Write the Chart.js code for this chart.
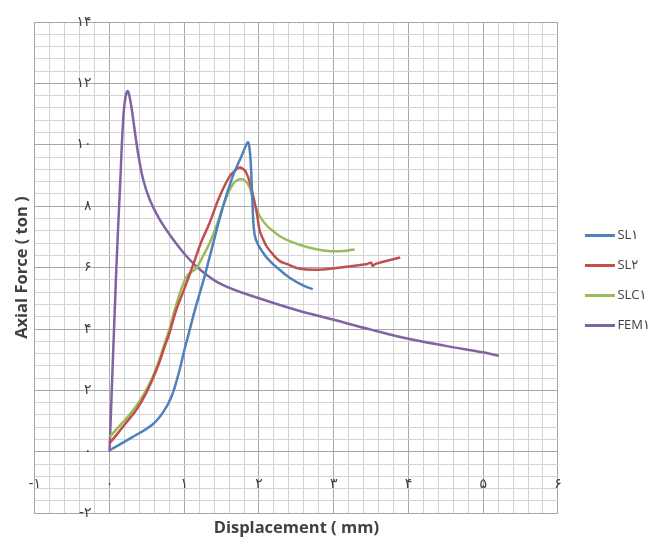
<!DOCTYPE html>
<html>
<head>
<meta charset="utf-8">
<script src="https://cdn.jsdelivr.net/npm/chart.js@4.4.0/dist/chart.umd.min.js"></script>
<style>
  html, body { margin: 0; padding: 0; background: #fff; }
  #wrap { width: 670px; height: 539px; }
</style>
</head>
<body>
<div id="wrap"><canvas id="LineChart"></canvas></div>
<script>
// series names and colours
const seriesNames = ['SL۱', 'SL۲', 'SLC۱', 'FEM۱'];
const seriesColors = ['#4f81bd', '#c0504d', '#9bbb59', '#8064a2'];

// SL1
const sl1X = [0, 0.3, 0.58, 0.72, 0.83, 0.93, 1.0, 1.06, 1.14, 1.27, 1.34, 1.52, 1.65, 1.77, 1.83, 1.855, 1.875, 1.89, 1.91, 1.93, 1.96, 2.05, 2.15, 2.28, 2.41, 2.59, 2.72];
const sl1Y = [0.05, 0.47, 0.9, 1.3, 1.8, 2.6, 3.3, 3.85, 4.6, 5.7, 6.35, 8.0, 8.98, 9.65, 10.0, 10.08, 9.85, 9.4, 8.3, 7.3, 6.9, 6.5, 6.2, 5.92, 5.67, 5.42, 5.3];

// SL2
const sl2X = [0, 0.11, 0.22, 0.36, 0.49, 0.63, 0.74, 0.8, 0.89, 1.0, 1.12, 1.23, 1.34, 1.47, 1.61, 1.7, 1.75, 1.83, 1.9, 1.97, 2.01, 2.06, 2.1, 2.19, 2.28, 2.37, 2.55, 2.86, 3.17, 3.45, 3.5, 3.52, 3.56, 3.89];
const sl2Y = [0.28, 0.6, 0.94, 1.37, 1.91, 2.68, 3.44, 3.85, 4.6, 5.3, 6.1, 6.85, 7.46, 8.3, 8.98, 9.2, 9.26, 9.09, 8.55, 7.79, 7.2, 6.9, 6.7, 6.42, 6.21, 6.12, 5.96, 5.94, 6.03, 6.12, 6.16, 6.06, 6.12, 6.33];

// SLC1
const slc1X = [0, 0.13, 0.27, 0.4, 0.54, 0.65, 0.74, 0.8, 0.87, 0.96, 1.03, 1.09, 1.16, 1.25, 1.34, 1.43, 1.52, 1.65, 1.76, 1.855, 1.92, 2.01, 2.1, 2.19, 2.28, 2.41, 2.64, 2.86, 3.08, 3.28];
const slc1Y = [0.48, 0.83, 1.21, 1.64, 2.24, 2.89, 3.55, 3.98, 4.6, 5.3, 5.7, 5.85, 5.98, 6.37, 6.8, 7.35, 8.0, 8.71, 8.88, 8.71, 8.22, 7.68, 7.38, 7.19, 7.02, 6.86, 6.67, 6.56, 6.53, 6.59];

// FEM1
const fem1X = [0, 0.09, 0.14, 0.18, 0.21, 0.245, 0.29, 0.335, 0.38, 0.45, 0.54, 0.67, 0.85, 1.03, 1.21, 1.5, 2.0, 2.5, 3.0, 3.5, 4.0, 4.5, 5.0, 5.21];
const fem1Y = [0, 5.9, 8.6, 10.7, 11.5, 11.75, 11.27, 10.5, 9.75, 8.87, 8.2, 7.57, 6.92, 6.37, 5.94, 5.45, 5.0, 4.62, 4.3, 3.98, 3.68, 3.45, 3.24, 3.13];

// tick labels
const xTicks = [-1, 0, 1, 2, 3, 4, 5, 6];
const xTickLabels = ['-۱', '۰', '۱', '۲', '۳', '۴', '۵', '۶'];
const yTicks = [-2, 0, 2, 4, 6, 8, 10, 12, 14];
const yTickLabels = ['-۲', '۰', '۲', '۴', '۶', '۸', '۱۰', '۱۲', '۱۴'];

const allX = [sl1X, sl2X, slc1X, fem1X];
const allY = [sl1Y, sl2Y, slc1Y, fem1Y];

function toPoints(xs, ys) {
  return xs.map((x, i) => ({ x: x, y: ys[i] }));
}

// legend sample: short line with a little space in front of it
function legendLine(color) {
  const c = document.createElement('canvas');
  c.width = 60;
  c.height = 3;
  const g = c.getContext('2d');
  g.fillStyle = color;
  g.fillRect(22, 0, 30, 3);
  return c;
}

const majorGrid = '#a6a6a6';
const minorGrid = '#d4d4d4';
const textColor = '#404040';

Chart.defaults.font.family = "'Open Sans', 'DejaVu Sans', sans-serif";
Chart.defaults.color = textColor;

const datasets = seriesNames.map((name, i) => ({
  label: name,
  data: toPoints(allX[i], allY[i]),
  borderColor: seriesColors[i],
  backgroundColor: seriesColors[i],
  borderWidth: 2.5,
  pointRadius: 0,
  fill: false,
  tension: 0.4
}));

const config = {
  type: 'line',
  data: { datasets: datasets },
  options: {
    responsive: true,
    maintainAspectRatio: false,
    animation: false,
    layout: { padding: { top: 22, left: 8, right: 10, bottom: 0 } },
    plugins: {
      tooltip: { enabled: false },
      legend: {
        position: 'right',
        labels: {
          usePointStyle: true,
          pointStyleWidth: 36,
          padding: 17,
          color: textColor,
          font: { size: 13 },
          generateLabels: function(chart) {
            const items = Chart.defaults.plugins.legend.labels.generateLabels(chart);
            items.forEach((it, i) => { it.pointStyle = legendLine(seriesColors[i]); });
            return items;
          }
        }
      }
    },
    scales: {
      x: {
        type: 'linear',
        position: 'bottom',
        min: -1,
        max: 6,
        ticks: { display: false, stepSize: 0.2, autoSkip: false },
        grid: {
          drawTicks: false,
          color: ctx => Math.abs(ctx.tick.value - Math.round(ctx.tick.value)) < 1e-6 ? majorGrid : minorGrid
        },
        border: { color: majorGrid },
        title: {
          display: true,
          text: 'Displacement ( mm)',
          color: textColor,
          font: { size: 16.5, weight: 'bold' },
          padding: { top: 5, bottom: 1 }
        }
      },
      y: {
        type: 'linear',
        position: 'left',
        min: -2,
        max: 14,
        ticks: { display: false, stepSize: 0.4, autoSkip: false },
        grid: {
          drawTicks: false,
          color: ctx => Math.abs(ctx.tick.value / 2 - Math.round(ctx.tick.value / 2)) < 1e-6 ? majorGrid : minorGrid
        },
        border: { color: majorGrid },
        title: {
          display: true,
          text: 'Axial Force ( ton )',
          color: textColor,
          font: { size: 16.5, weight: 'bold' },
          padding: { top: 4, bottom: 3 }
        }
      },
      xl: {
        type: 'linear',
        axis: 'x',
        position: { y: 0 },
        min: -1,
        max: 6,
        grid: { display: false },
        border: { display: false },
        ticks: {
          stepSize: 1,
          autoSkip: false,
          maxRotation: 0,
          padding: 16,
          color: textColor,
          font: { family: "'DejaVu Sans', sans-serif", size: 14 },
          callback: v => xTickLabels[xTicks.indexOf(v)]
        }
      },
      yl: {
        type: 'linear',
        axis: 'y',
        position: { x: -0.24 },
        min: -2,
        max: 14,
        grid: { display: false },
        border: { display: false },
        ticks: {
          stepSize: 2,
          autoSkip: false,
          padding: 0,
          color: textColor,
          font: { family: "'DejaVu Sans', sans-serif", size: 14 },
          callback: v => yTickLabels[yTicks.indexOf(v)]
        }
      }
    }
  }
};

new Chart(document.getElementById('LineChart'), config);
</script>
</body>
</html>
